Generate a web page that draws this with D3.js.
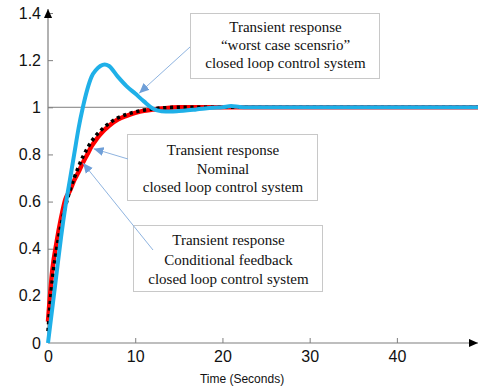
<!DOCTYPE html>
<html>
<head>
<meta charset="utf-8">
<script src="https://cdn.jsdelivr.net/npm/d3@7"></script>
<style>
  body { margin: 0; background: #fff; }
  svg { display: block; }
</style>
</head>
<body>
<svg width="483" height="392"></svg>
<script>
// time in seconds, shared by all three responses
var time = [0, 0.5, 1, 1.5, 2, 2.5, 3, 3.5, 4, 4.5, 5, 5.5, 6, 6.5, 7, 8, 9, 10, 11, 12,
            13, 14, 15, 16, 17, 18, 19, 20, 21, 22, 23, 25, 30, 40, 49.3];

// worst case (blue)
var worstCase = [0, 0.15, 0.30, 0.45, 0.58, 0.69, 0.80, 0.91, 1.00, 1.075, 1.13, 1.158, 1.175, 1.182, 1.175, 1.13,
                 1.09, 1.058, 1.025, 0.995, 0.983, 0.982, 0.984, 0.987, 0.991, 0.995, 0.998, 1.0, 1.005, 1.001,
                 1.0, 1.0, 1.0, 1.0, 1.0];

// nominal (red)
var nominal = [0.09, 0.31, 0.43, 0.53, 0.61, 0.645, 0.69, 0.725, 0.765, 0.80, 0.835, 0.862, 0.885, 0.905, 0.922, 0.948,
               0.964, 0.976, 0.985, 0.99, 0.995, 0.998, 1.0, 1.0, 1.0, 1.0, 1.0, 1.0, 1.0, 1.0,
               1.0, 1.0, 1.0, 1.0, 1.0];

// conditional feedback (black dotted)
var conditional = [0.05, 0.27, 0.40, 0.50, 0.58, 0.645, 0.70, 0.748, 0.79, 0.825, 0.855, 0.88, 0.9, 0.917, 0.932, 0.955,
                   0.97, 0.98, 0.988, 0.993, 0.997, 0.999, 1.0, 1.0, 1.0, 1.0, 1.0, 1.0, 1.0, 1.0,
                   1.0, 1.0, 1.0, 1.0, 1.0];

var xTicks = [0, 10, 20, 30, 40];
var yTicks = [0, 0.2, 0.4, 0.6, 0.8, 1, 1.2, 1.4];

var notes = [
  ["Transient response", "\u201cworst case scensrio\u201d", "closed loop control system"],
  ["Transient response", "Nominal", "closed loop control system"],
  ["Transient response", "Conditional feedback", "closed loop control system"]
];
// which curve each note points at, and the time it points to
var noteTarget = [[worstCase, 10.2], [nominal, 4.9], [conditional, 3.8]];

var svg = d3.select("svg");

var x = d3.scaleLinear().domain([0, 49.3]).range([48, 478]);
var y = d3.scaleLinear().domain([0, 1.4]).range([343, 13]);

var defs = svg.append("defs");
defs.append("marker")
    .attr("id", "axisArrow")
    .attr("viewBox", "0 -5 10 10")
    .attr("refX", 10).attr("refY", 0)
    .attr("markerWidth", 9).attr("markerHeight", 9)
    .attr("markerUnits", "userSpaceOnUse")
    .attr("orient", "auto")
  .append("path")
    .attr("d", "M0,-4.5L10,0L0,4.5Z")
    .attr("fill", "#000");
defs.append("marker")
    .attr("id", "noteArrow")
    .attr("viewBox", "0 -5 10 10")
    .attr("refX", 10).attr("refY", 0)
    .attr("markerWidth", 10).attr("markerHeight", 10)
    .attr("markerUnits", "userSpaceOnUse")
    .attr("orient", "auto")
  .append("path")
    .attr("d", "M0,-4.5L10,0L0,4.5Z")
    .attr("fill", "#6f9fd8");

// reference line at 1
svg.append("line")
    .attr("x1", x(0)).attr("x2", x.range()[1])
    .attr("y1", y(1)).attr("y2", y(1))
    .attr("stroke", "#7f7f7f").attr("stroke-width", 1);

// axes
var xAxis = svg.append("g")
    .attr("transform", "translate(0," + y(0) + ")")
    .call(d3.axisBottom(x).tickValues(xTicks).tickSize(-5).tickPadding(8).tickFormat(d3.format("d")));
var yAxis = svg.append("g")
    .attr("transform", "translate(" + x(0) + ",0)")
    .call(d3.axisLeft(y).tickValues(yTicks).tickSize(-5).tickPadding(7).tickFormat(function(d) { return d3.format("")(+d.toFixed(1)); }));
[xAxis, yAxis].forEach(function(g) {
  g.select(".domain").remove();
  g.selectAll(".tick line").attr("stroke", "#7f7f7f");
  g.selectAll(".tick text")
    .attr("fill", "#111")
    .style("font-family", "'Liberation Sans', Arial, sans-serif")
    .style("font-size", "16px");
});
xAxis.selectAll(".tick").filter(function(d) { return d === 0; }).select("line").remove();
yAxis.selectAll(".tick").filter(function(d) { return d === 0; }).select("line").remove();

svg.append("line")
    .attr("x1", x(0)).attr("y1", y(0)).attr("x2", x.range()[1]).attr("y2", y(0))
    .attr("stroke", "#7f7f7f").attr("stroke-width", 1.2)
    .attr("marker-end", "url(#axisArrow)");
svg.append("line")
    .attr("x1", x(0)).attr("y1", y(0)).attr("x2", x(0)).attr("y2", 9)
    .attr("stroke", "#7f7f7f").attr("stroke-width", 1.2)
    .attr("marker-end", "url(#axisArrow)");

svg.append("text")
    .attr("x", 242).attr("y", 383)
    .attr("text-anchor", "middle")
    .style("font-family", "'Liberation Sans', Arial, sans-serif")
    .style("font-size", "12px")
    .attr("fill", "#111")
    .text("Time (Seconds)");

// curves
function lineFor(values, curve) {
  return d3.line()
    .x(function(d, i) { return x(time[i]); })
    .y(function(d) { return y(d); })
    .curve(curve || d3.curveMonotoneX)(values);
}

svg.append("path")
    .attr("d", lineFor(nominal))
    .attr("fill", "none").attr("stroke", "#ff0000").attr("stroke-width", 4.5)
    .attr("stroke-linejoin", "round");
svg.append("path")
    .attr("d", lineFor(conditional))
    .attr("fill", "none").attr("stroke", "#000").attr("stroke-width", 3.6)
    .attr("stroke-dasharray", "3.2,3.6");
svg.append("path")
    .attr("d", lineFor(worstCase))
    .attr("fill", "none").attr("stroke", "#1fb0e8").attr("stroke-width", 4)
    .attr("stroke-linejoin", "round");

// annotation boxes
var boxes = [
  {x: 190, y: 13, w: 189, h: 65, lead: [190, 47], base: 32, gap: 18},
  {x: 127, y: 134, w: 190, h: 66, lead: [128, 159], base: 155, gap: 18.5},
  {x: 133, y: 225, w: 189, h: 66, lead: [153, 250], base: 245, gap: 19.5}
];

boxes.forEach(function(b, i) {
  svg.append("rect")
    .attr("x", b.x + 0.5).attr("y", b.y + 0.5)
    .attr("width", b.w).attr("height", b.h)
    .attr("fill", "#fff").attr("stroke", "#c8c8c8").attr("stroke-width", 1);
  notes[i].forEach(function(line, j) {
    svg.append("text")
      .attr("x", b.x + b.w / 2 + 1)
      .attr("y", b.base + j * b.gap)
      .attr("text-anchor", "middle")
      .style("font-family", "'Liberation Serif', 'Times New Roman', serif")
      .style("font-size", "15px")
      .attr("fill", "#111")
      .text(line);
  });
});

boxes.forEach(function(b, i) {
  var series = noteTarget[i][0], t = noteTarget[i][1];
  var k = d3.bisectLeft(time, t);
  var f = (t - time[k - 1]) / (time[k] - time[k - 1]);
  var v = series[k - 1] + f * (series[k] - series[k - 1]);
  var tx = x(t), ty = y(v);
  // stop a little short of the curve
  var dx = b.lead[0] - tx, dy = b.lead[1] - ty, len = Math.sqrt(dx * dx + dy * dy);
  svg.append("line")
    .attr("x1", b.lead[0]).attr("y1", b.lead[1])
    .attr("x2", tx + dx / len * 3).attr("y2", ty + dy / len * 3)
    .attr("stroke", "#8fb4e0").attr("stroke-width", 1)
    .attr("marker-end", "url(#noteArrow)");
});
</script>
</body>
</html>
